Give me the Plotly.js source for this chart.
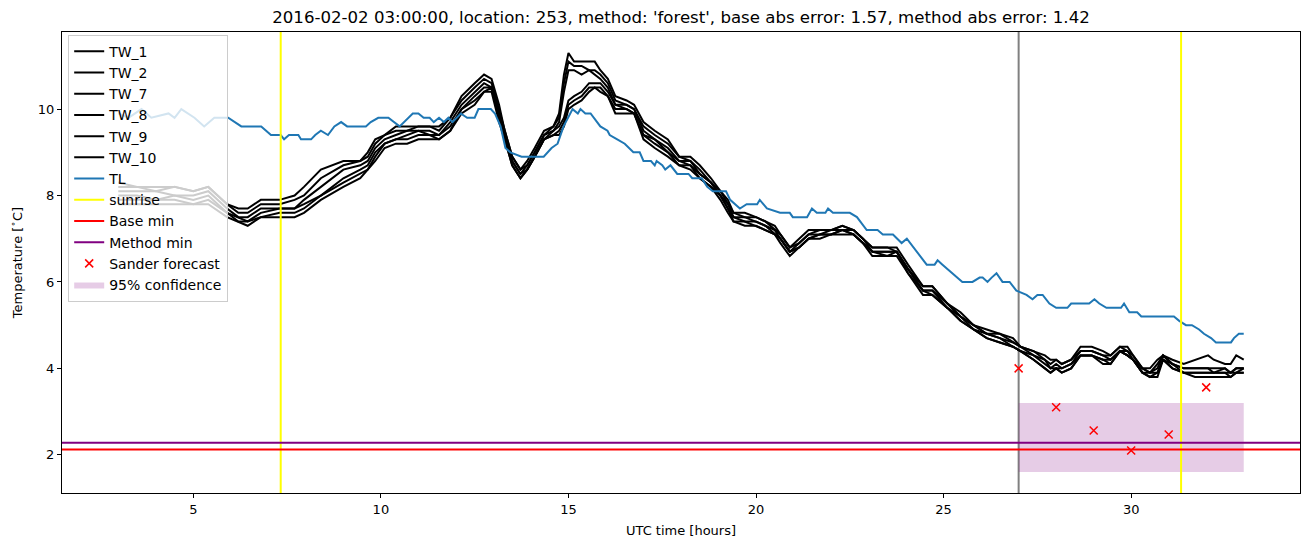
<!DOCTYPE html>
<html>
<head>
<meta charset="utf-8">
<script src="https://cdn.plot.ly/plotly-3.0.1.min.js"></script>
<style>html,body{margin:0;padding:0;background:#fff;}#chart{width:1310px;height:547px;}</style>
</head>
<body>
<div id="chart"></div>
<script>
// ---------------- data ----------------
const tlHours = [
 3.0,3.27,3.62,3.88,4.34,4.5,4.68,5.03,5.29,5.56,
 5.93,6.1,6.28,6.81,7.07,7.33,7.42,7.55,7.8,7.87,
 8.14,8.25,8.4,8.59,8.76,8.94,9.1,9.6,9.73,9.93,
 10.2,10.5,10.61,10.85,11.0,11.14,11.3,11.41,11.55,11.68,
 11.8,11.91,12.13,12.3,12.5,12.6,12.93,13.04,13.19,13.32,
 13.45,13.75,14.34,14.45,14.55,14.71,14.87,15.11,15.25,15.32,
 15.45,15.59,15.85,16.04,16.1,16.3,16.5,16.73,16.9,17.0,
 17.2,17.3,17.35,17.5,17.58,17.72,17.9,18.2,18.3,18.55,
 18.7,18.85,19.2,19.31,19.57,19.75,20.03,20.1,20.29,20.64,
 20.9,20.98,21.36,21.49,21.62,21.85,21.92,22.05,22.5,22.69,
 22.95,23.24,23.38,23.65,23.78,23.88,24.02,24.28,24.55,24.76,
 24.84,24.97,25.1,25.35,25.5,25.77,25.96,26.04,26.17,26.28,
 26.41,26.57,26.76,26.94,27.21,27.37,27.5,27.64,27.82,28.0,
 28.3,28.4,28.88,29.02,29.15,29.34,29.73,29.81,29.95,30.16,
 30.27,31.14,31.28,31.46,31.62,31.81,31.94,32.13,32.26,32.66,
 32.74,32.87,33.0];
const tlValues = [
 9.9,9.8,10.0,9.8,9.9,9.8,10.0,9.8,9.6,9.8,
 9.8,9.7,9.6,9.6,9.4,9.4,9.3,9.4,9.4,9.3,
 9.3,9.4,9.5,9.4,9.6,9.7,9.6,9.6,9.7,9.8,
 9.8,9.6,9.7,9.9,9.9,9.8,9.8,9.7,9.8,9.7,
 9.8,9.7,9.9,9.8,9.8,10.0,10.0,9.9,9.6,9.1,
 9.0,8.9,8.9,9.0,9.1,9.2,9.6,10.0,9.9,10.0,
 9.9,9.9,9.6,9.5,9.4,9.3,9.2,9.0,9.0,8.8,
 8.8,8.7,8.8,8.7,8.6,8.7,8.5,8.5,8.4,8.4,
 8.2,8.1,8.1,7.9,7.7,7.8,7.8,7.9,7.7,7.6,
 7.6,7.5,7.5,7.7,7.6,7.6,7.7,7.6,7.6,7.5,
 7.2,7.2,7.1,7.1,7.0,6.9,7.0,6.7,6.4,6.4,
 6.5,6.4,6.3,6.1,6.0,6.0,6.1,6.1,6.0,6.1,
 6.2,6.0,6.0,5.8,5.7,5.6,5.7,5.7,5.5,5.4,
 5.4,5.5,5.5,5.6,5.5,5.4,5.4,5.5,5.3,5.3,
 5.2,5.2,5.1,5.0,5.0,4.9,4.8,4.7,4.6,4.6,
 4.7,4.8,4.8];

const twHours = [
 3.0,3.5,4.0,4.5,5.0,5.4,5.9,6.2,6.45,6.8,
 7.3,7.7,7.95,8.4,9.0,9.45,9.65,9.85,10.1,10.4,
 10.7,11.0,11.3,11.55,11.85,12.15,12.5,12.75,12.95,13.15,
 13.3,13.5,13.72,13.9,14.1,14.35,14.6,14.75,14.88,15.0,
 15.15,15.35,15.55,15.7,15.85,16.05,16.25,16.55,16.75,17.0,
 17.3,17.65,17.95,18.25,18.5,18.8,19.05,19.25,19.4,19.7,
 20.0,20.25,20.5,20.65,20.9,21.15,21.4,21.7,22.0,22.3,
 22.6,22.85,23.1,23.5,23.75,24.05,24.45,24.7,25.1,25.45,
 25.8,26.15,26.5,26.85,27.05,27.4,27.7,27.85,28.0,28.15,
 28.4,28.65,28.95,29.25,29.45,29.7,29.9,30.05,30.3,30.5,
 30.7,30.85,31.1,31.4,31.7,32.05,32.2,32.5,32.65,32.8,
 33.0];

const tw2 = [
 8.3,8.2,8.2,8.2,8.1,8.2,7.8,7.7,7.7,7.9,
 7.9,8.0,8.2,8.6,8.8,8.8,9.0,9.3,9.4,9.6,
 9.6,9.6,9.6,9.6,9.8,10.3,10.6,10.8,10.7,10.1,
 9.5,8.9,8.6,8.8,9.1,9.5,9.6,9.9,10.8,11.3,
 11.1,11.1,11.1,11.1,10.9,10.7,10.3,10.2,10.1,9.7,
 9.5,9.3,8.9,8.9,8.7,8.4,8.1,7.9,7.6,7.6,
 7.5,7.4,7.3,7.1,6.8,7.0,7.2,7.2,7.2,7.3,
 7.2,7.0,6.8,6.8,6.8,6.4,5.9,5.9,5.5,5.3,
 5.0,4.9,4.8,4.7,4.5,4.4,4.3,4.2,4.2,4.1,
 4.2,4.5,4.5,4.4,4.3,4.5,4.5,4.3,4.0,4.0,
 4.2,4.3,4.2,4.1,4.2,4.3,4.2,4.1,4.1,4.3,
 4.2];
const tw8 = [
 8.2,8.2,8.1,8.2,8.1,8.2,7.8,7.6,7.6,7.8,
 7.8,7.9,8.0,8.4,8.7,8.8,8.9,9.2,9.4,9.5,
 9.5,9.6,9.6,9.5,9.8,10.2,10.5,10.7,10.6,10.0,
 9.5,8.9,8.6,8.7,9.0,9.4,9.6,9.8,10.6,11.1,
 11.0,11.0,10.9,10.9,10.8,10.6,10.2,10.1,10.0,9.6,
 9.4,9.2,8.9,8.8,8.6,8.3,8.1,7.8,7.6,7.5,
 7.5,7.4,7.2,7.1,6.8,6.9,7.1,7.2,7.2,7.3,
 7.2,7.0,6.8,6.8,6.7,6.3,5.9,5.9,5.5,5.2,
 5.0,4.8,4.8,4.6,4.5,4.4,4.2,4.1,4.2,4.1,
 4.2,4.4,4.4,4.3,4.3,4.5,4.4,4.3,4.0,3.9,
 4.1,4.3,4.1,4.0,4.0,4.0,4.0,4.0,3.9,4.0,
 4.0];
const tw1 = [
 8.1,8.1,8.1,8.0,8.0,8.1,7.7,7.5,7.5,7.7,
 7.7,7.7,7.9,8.2,8.6,8.7,8.8,9.1,9.3,9.4,
 9.5,9.5,9.5,9.4,9.7,10.1,10.4,10.6,10.5,9.9,
 9.4,8.8,8.5,8.7,9.0,9.4,9.5,9.7,10.4,10.9,
 10.9,10.8,10.9,10.8,10.7,10.5,10.1,10.1,10.0,9.5,
 9.3,9.1,8.8,8.8,8.5,8.3,8.0,7.8,7.5,7.5,
 7.4,7.3,7.2,7.0,6.7,6.9,7.1,7.1,7.2,7.2,
 7.2,7.0,6.7,6.7,6.7,6.3,5.8,5.8,5.5,5.2,
 5.0,4.8,4.7,4.6,4.5,4.3,4.2,4.0,4.1,4.0,
 4.1,4.4,4.4,4.3,4.2,4.4,4.4,4.2,4.0,3.9,
 4.0,4.3,4.1,4.0,4.0,4.0,3.9,4.0,3.9,4.0,
 4.0];
const tw10 = [
 8.0,8.0,7.9,8.0,7.9,8.0,7.6,7.5,7.4,7.6,
 7.7,7.7,7.8,8.0,8.4,8.6,8.7,9.0,9.2,9.3,
 9.4,9.5,9.4,9.4,9.6,10.0,10.3,10.5,10.5,9.9,
 9.4,8.8,8.5,8.6,8.9,9.3,9.5,9.6,9.8,10.2,
 10.3,10.4,10.6,10.6,10.6,10.4,10.1,10.0,9.9,9.4,
 9.3,9.0,8.8,8.7,8.5,8.3,8.0,7.7,7.5,7.4,
 7.4,7.3,7.1,7.0,6.7,6.8,7.0,7.1,7.1,7.2,
 7.1,6.9,6.7,6.7,6.7,6.3,5.8,5.8,5.4,5.2,
 4.9,4.8,4.7,4.5,4.4,4.3,4.1,4.0,4.0,4.0,
 4.1,4.3,4.3,4.2,4.2,4.4,4.3,4.2,3.9,3.9,
 3.9,4.2,4.1,3.9,3.9,3.9,3.9,3.9,3.9,3.9,
 4.0];
const tw7 = [
 7.9,7.9,7.9,7.9,7.8,7.9,7.6,7.4,7.4,7.5,
 7.6,7.6,7.7,8.0,8.3,8.5,8.6,8.9,9.2,9.3,
 9.3,9.4,9.4,9.3,9.5,10.0,10.2,10.4,10.5,9.8,
 9.3,8.7,8.4,8.6,8.9,9.3,9.4,9.5,9.7,10.1,
 10.2,10.3,10.5,10.5,10.5,10.3,10.0,10.0,9.9,9.4,
 9.2,9.0,8.7,8.7,8.4,8.2,8.0,7.7,7.4,7.4,
 7.3,7.2,7.1,7.0,6.7,6.8,7.0,7.1,7.1,7.2,
 7.1,6.9,6.7,6.6,6.7,6.2,5.8,5.7,5.4,5.1,
 4.9,4.7,4.6,4.5,4.4,4.2,4.0,3.9,4.0,3.9,
 4.0,4.3,4.3,4.2,4.1,4.4,4.3,4.2,3.9,3.8,
 3.9,4.2,4.0,3.9,3.9,3.9,3.9,3.9,3.8,3.9,
 3.9];
const tw9 = [
 7.8,7.8,7.8,7.8,7.8,7.8,7.5,7.4,7.3,7.5,
 7.5,7.5,7.6,7.9,8.2,8.4,8.6,8.8,9.1,9.2,
 9.2,9.3,9.3,9.3,9.5,9.9,10.1,10.4,10.4,9.7,
 9.3,8.7,8.4,8.6,8.9,9.3,9.4,9.4,9.6,10.0,
 10.1,10.2,10.4,10.5,10.4,10.3,9.9,9.9,9.9,9.3,
 9.1,8.9,8.7,8.6,8.4,8.2,7.9,7.6,7.4,7.3,
 7.3,7.2,7.1,6.9,6.6,6.8,7.0,7.0,7.1,7.1,
 7.1,6.9,6.6,6.6,6.6,6.2,5.7,5.7,5.4,5.1,
 4.9,4.7,4.6,4.5,4.4,4.2,4.0,3.9,4.0,3.9,
 4.0,4.3,4.3,4.1,4.1,4.4,4.3,4.2,3.9,3.8,
 3.8,4.2,4.0,3.9,3.8,3.8,3.8,3.8,3.8,3.9,
 3.9];

const twNames = ['TW_1','TW_2','TW_7','TW_8','TW_9','TW_10'];
const twSeries = [tw1, tw2, tw7, tw8, tw9, tw10];

const sunriseHours = [7.33, 31.33];
const forecastStart = 27.0;
const baseMin = 2.12;
const methodMin = 2.28;

const sanderHours = [27, 28, 29, 30, 31, 32];
const sanderValues = [4.0, 3.1, 2.56, 2.1, 2.47, 3.56];

const confHours = [27, 33];
const confLow = 1.6;
const confHigh = 3.2;

const titleText = "2016-02-02 03:00:00, location: 253, method: 'forest', base abs error: 1.57, method abs error: 1.42";

// ---------------- traces ----------------
const traces = [];
traces.push({
  x: [confHours[0], confHours[1], confHours[1], confHours[0], confHours[0]],
  y: [confLow, confLow, confHigh, confHigh, confLow],
  mode: 'lines', fill: 'toself', fillcolor: 'rgba(128,0,128,0.2)',
  line: {width: 0, color: 'rgba(128,0,128,0)'},
  name: '95% confidence', legendrank: 1015, hoverinfo: 'skip'
});
twNames.forEach((n, i) => {
  traces.push({x: twHours, y: twSeries[i], mode: 'lines', name: n,
    line: {color: 'black', width: 2}, legendrank: 1000 + i});
});
traces.push({x: tlHours, y: tlValues, mode: 'lines', name: 'TL',
  line: {color: '#1f77b4', width: 2}, legendrank: 1006});
traces.push({x: [null], y: [null], mode: 'lines', name: 'sunrise',
  line: {color: 'yellow', width: 2}, legendrank: 1007});
traces.push({x: [null], y: [null], mode: 'lines', name: 'Base min',
  line: {color: 'red', width: 2}, legendrank: 1008});
traces.push({x: [null], y: [null], mode: 'lines', name: 'Method min',
  line: {color: 'purple', width: 2}, legendrank: 1009});
traces.push({x: sanderHours, y: sanderValues, mode: 'markers', name: 'Sander forecast',
  marker: {symbol: 'x-thin', size: 8, color: 'red', line: {color: 'red', width: 1.5}},
  legendrank: 1010});

// ---------------- shapes ----------------
const shapes = [];
shapes.push({type: 'line', xref: 'x', yref: 'paper', x0: forecastStart, x1: forecastStart, y0: 0, y1: 1,
  line: {color: 'gray', width: 2}, layer: 'below'});
sunriseHours.forEach(h => shapes.push({type: 'line', xref: 'x', yref: 'paper', x0: h, x1: h, y0: 0, y1: 1,
  line: {color: 'yellow', width: 2}, layer: 'above'}));
shapes.push({type: 'line', xref: 'paper', yref: 'y', x0: 0, x1: 1, y0: methodMin, y1: methodMin,
  line: {color: 'purple', width: 2}, layer: 'above'});
shapes.push({type: 'line', xref: 'paper', yref: 'y', x0: 0, x1: 1, y0: baseMin, y1: baseMin,
  line: {color: 'red', width: 2}, layer: 'above'});

const font = 'DejaVu Sans, sans-serif';
const layout = {
  width: 1310, height: 547,
  margin: {l: 62, r: 10, t: 32, b: 54},
  paper_bgcolor: 'white', plot_bgcolor: 'white',
  font: {family: font, size: 13, color: 'black'},
  title: {text: titleText, font: {family: font, size: 16.6, color: 'black'},
    x: 0.5, xref: 'paper', xanchor: 'center', y: 1 - 17/547, yref: 'container', yanchor: 'middle'},
  showlegend: true,
  legend: {x: 0.005, y: 0.994, xanchor: 'left', yanchor: 'top',
    bgcolor: 'rgba(255,255,255,0.8)', bordercolor: '#cccccc', borderwidth: 1,
    font: {family: font, size: 14}, traceorder: 'normal', itemwidth: 30},
  xaxis: {range: [1.5, 34.5], tickvals: [5, 10, 15, 20, 25, 30], ticktext: ['5','10','15','20','25','30'],
    showgrid: false, zeroline: false, showline: true, mirror: true, linecolor: 'black', linewidth: 1,
    ticks: 'outside', ticklen: 4, tickwidth: 1, tickcolor: 'black',
    tickfont: {family: font, size: 13},
    title: {text: 'UTC time [hours]', font: {family: font, size: 13}, standoff: 10}},
  yaxis: {range: [1.115, 11.785], tickvals: [2, 4, 6, 8, 10], ticktext: ['2','4','6','8','10'],
    showgrid: false, zeroline: false, showline: true, mirror: true, linecolor: 'black', linewidth: 1,
    ticks: 'outside', ticklen: 4, tickwidth: 1, tickcolor: 'black',
    tickfont: {family: font, size: 13},
    title: {text: 'Temperature [<sup>∘</sup>C]', font: {family: font, size: 13}, standoff: 12}},
  shapes: shapes
};

Plotly.newPlot('chart', traces, layout, {displayModeBar: false, staticPlot: true});
</script>
</body>
</html>
